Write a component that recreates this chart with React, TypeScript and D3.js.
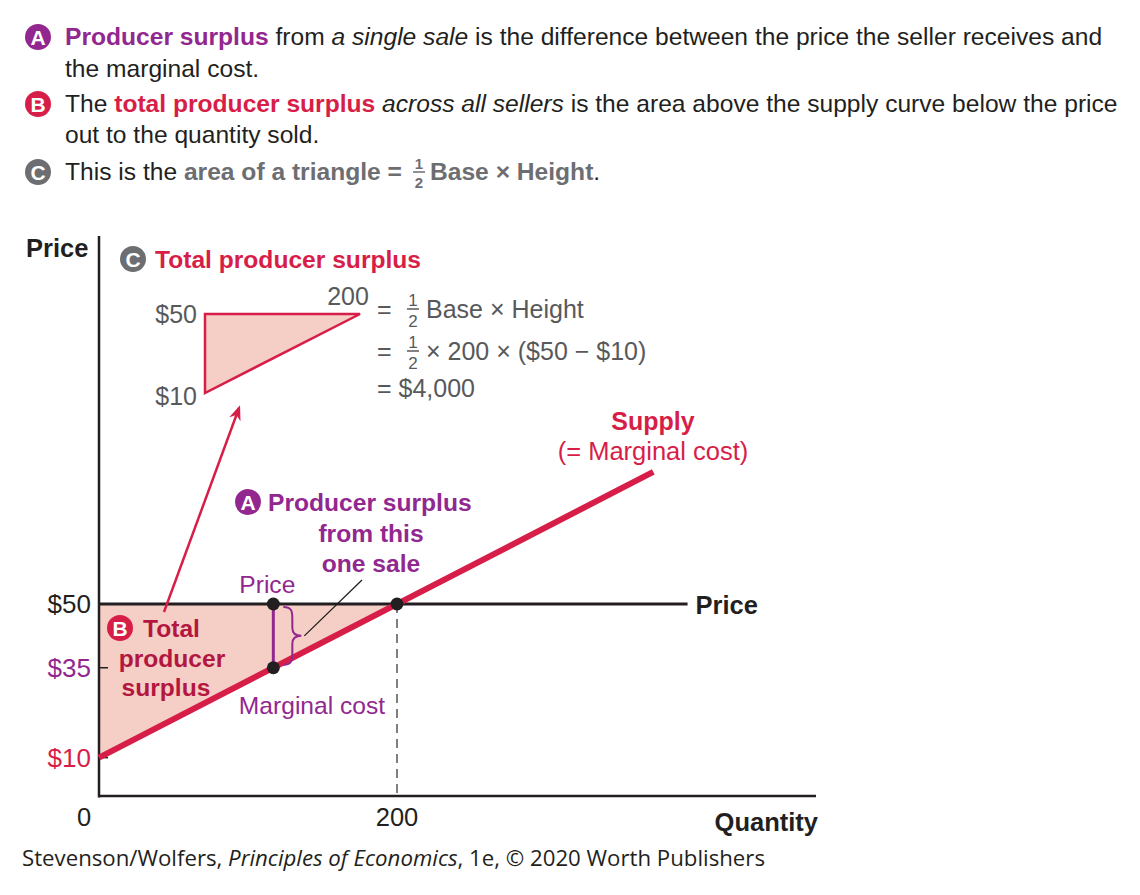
import React from 'react';
import * as d3 from 'd3';

// quantity / price values
const supplyIntercept = 10;
const supplySlope = 0.2;
const supplyQuantities = [0, 372];
const marketPrice = 50;
const marketQuantity = 200;
const saleQuantity = 117;
const priceLineEnd = 395;

const yTicks = [
  { value: 50, label: '$50', color: '#231f20' },
  { value: supplyIntercept + supplySlope * saleQuantity, label: '$35', color: '#92278f' },
  { value: 10, label: '$10', color: '#d71e48' },
];
const xTicks = [
  { value: 0, label: '0' },
  { value: 200, label: '200' },
];

const RED = '#d71e48';
const DARKRED = '#b3173f';
const PURPLE = '#92278f';
const GRAY = '#6d6e71';
const EQGRAY = '#58595b';
const FILL = '#f5cfc6';
const FONT = '"Liberation Sans", Arial, Helvetica, sans-serif';
const FS = 24.6;

const supply = (q: number) => supplyIntercept + supplySlope * q;

const Badge = ({ x, y, letter, color }: { x: number; y: number; letter: string; color: string }) => (
  <g>
    <circle cx={x} cy={y} r={13} fill={color} />
    <text x={x} y={y + 7.5} textAnchor="middle" fill="#fff" fontWeight="bold" fontSize={21}>
      {letter}
    </text>
  </g>
);

const Frac = ({ x, y, size, color, bold }: { x: number; y: number; size: number; color: string; bold?: boolean }) => (
  <g fill={color} fontSize={size} fontWeight={bold ? 'bold' : 'normal'}>
    <text x={x} y={y - 3} textAnchor="middle">1</text>
    <line x1={x - 6} x2={x + 6} y1={y} y2={y} stroke={color} strokeWidth={1.5} />
    <text x={x} y={y + size + 0.5} textAnchor="middle">2</text>
  </g>
);

export default function App() {
  const width = 1140;
  const height = 895;

  const x = d3.scaleLinear().domain([0, 200]).range([99, 397]);
  const y = d3.scaleLinear().domain([0, 50]).range([796, 604]);
  const xMax = x.invert(816);
  const yMax = y.invert(236);

  const supplyLine = d3
    .line<number>()
    .x((q) => x(q))
    .y((q) => y(supply(q)));

  const surplusArea = d3
    .area<number>()
    .x((q) => x(q))
    .y0((q) => y(supply(q)))
    .y1(() => y(marketPrice));

  // miniature of the surplus triangle in the inset
  const xi = d3.scaleLinear().domain([0, marketQuantity]).range([205, 360]);
  const yi = d3.scaleLinear().domain([supplyIntercept, marketPrice]).range([393, 314]);
  const insetArea = d3
    .area<number>()
    .x((q) => xi(q))
    .y0((q) => yi(supply(q)))
    .y1(() => yi(marketPrice));

  const saleX = x(saleQuantity);
  const saleTop = y(marketPrice);
  const saleBottom = y(supply(saleQuantity));
  const braceX = saleX + 10;
  const braceMid = (saleTop + saleBottom) / 2;
  const brace = `M${braceX},${saleTop + 3} C${braceX + 9},${saleTop + 3} ${braceX + 9},${saleTop + 8} ${braceX + 9},${saleTop + 15}
    L${braceX + 9},${braceMid - 8} C${braceX + 9},${braceMid - 2} ${braceX + 13},${braceMid} ${braceX + 18},${braceMid}
    C${braceX + 13},${braceMid} ${braceX + 9},${braceMid + 2} ${braceX + 9},${braceMid + 8}
    L${braceX + 9},${saleBottom - 15} C${braceX + 9},${saleBottom - 8} ${braceX + 9},${saleBottom - 3} ${braceX},${saleBottom - 3}`;

  return (
    <svg width={width} height={height} style={{ display: 'block', position: 'absolute', left: 0, top: 0 }} fontFamily={FONT}>
      <rect width={width} height={height} fill="#fff" />
      <defs>
        <marker id="arrowRed" viewBox="0 0 10 10" refX="8" refY="5" markerWidth="6" markerHeight="6" orient="auto">
          <path d="M0,1 L10,5 L0,9 L3,5 Z" fill={RED} />
        </marker>
      </defs>

      {/* header notes */}
      <g fontSize={FS} fill="#231f20">
        <Badge x={38} y={37} letter="A" color={PURPLE} />
        <text x={65} y={45}>
          <tspan fill={PURPLE} fontWeight="bold">Producer surplus</tspan>
          <tspan> from </tspan>
          <tspan fontStyle="italic">a single sale</tspan>
          <tspan> is the difference between the price the seller receives and</tspan>
        </text>
        <text x={65} y={77}>the marginal cost.</text>
        <Badge x={38} y={104} letter="B" color={RED} />
        <text x={65} y={112}>
          <tspan>The </tspan>
          <tspan fill={RED} fontWeight="bold">total producer surplus</tspan>
          <tspan> </tspan>
          <tspan fontStyle="italic">across all sellers</tspan>
          <tspan> is the area above the supply curve below the price</tspan>
        </text>
        <text x={65} y={143}>out to the quantity sold.</text>
        <Badge x={38} y={172} letter="C" color={GRAY} />
        <text x={65} y={180}>
          <tspan>This is the </tspan>
          <tspan fill={GRAY} fontWeight="bold">area of a triangle =</tspan>
        </text>
        <Frac x={419} y={172} size={15} color={GRAY} bold />
        <text x={430} y={180}>
          <tspan fill={GRAY} fontWeight="bold">Base × Height</tspan>
          <tspan>.</tspan>
        </text>
      </g>

      {/* shaded surplus */}
      <path d={surplusArea([0, marketQuantity]) ?? ''} fill={FILL} />

      {/* dashed guide at Q = 200 */}
      <line x1={x(marketQuantity)} x2={x(marketQuantity)} y1={y(marketPrice)} y2={y(0)} stroke="#555" strokeWidth={1.5} strokeDasharray="9,6" />

      {/* price line */}
      <line x1={x(0)} x2={x(priceLineEnd)} y1={y(marketPrice)} y2={y(marketPrice)} stroke="#231f20" strokeWidth={3} />
      <text x={x(priceLineEnd) + 8} y={y(marketPrice) + 10} fontSize={25.5} fontWeight="bold" fill="#231f20">Price</text>

      {/* axes */}
      <line x1={x(0)} x2={x(0)} y1={y(yMax)} y2={y(0) + 1.5} stroke="#231f20" strokeWidth={2.5} />
      <line x1={x(0)} x2={x(xMax)} y1={y(0)} y2={y(0)} stroke="#231f20" strokeWidth={2.5} />
      {yTicks.map((t) => (
        <g key={t.label}>
          {t.value !== marketPrice && (
            <line x1={x(0)} x2={x(0) + 9} y1={y(t.value)} y2={y(t.value)} stroke="#231f20" strokeWidth={1.5} />
          )}
          <text x={91} y={y(t.value) + 9} textAnchor="end" fontSize={26} fill={t.color}>{t.label}</text>
        </g>
      ))}
      {xTicks.map((t) => (
        <text key={t.label} x={t.value === 0 ? x(0) - 15 : x(t.value)} y={826} textAnchor="middle" fontSize={25.5} fill="#231f20">
          {t.label}
        </text>
      ))}
      <text x={26} y={257} fontSize={25.5} fontWeight="bold" fill="#231f20">Price</text>
      <text x={818} y={831} textAnchor="end" fontSize={25.5} fontWeight="bold" fill="#231f20">Quantity</text>

      {/* supply curve */}
      <path d={supplyLine(supplyQuantities) ?? ''} fill="none" stroke={RED} strokeWidth={6} />
      <text x={653} y={430} textAnchor="middle" fontSize={25} fontWeight="bold" fill={RED}>Supply</text>
      <text x={653} y={460} textAnchor="middle" fontSize={25.5} fill={RED}>(= Marginal cost)</text>

      {/* single sale */}
      <line x1={saleX} x2={saleX} y1={saleTop} y2={saleBottom} stroke={PURPLE} strokeWidth={3} />
      <path d={brace} fill="none" stroke={PURPLE} strokeWidth={2} />
      <line x1={braceX + 21} y1={braceMid} x2={362} y2={580} stroke="#231f20" strokeWidth={1.3} />
      <circle cx={saleX} cy={saleTop} r={6.5} fill="#231f20" />
      <circle cx={saleX} cy={saleBottom} r={6.5} fill="#231f20" />
      <circle cx={x(marketQuantity)} cy={y(marketPrice)} r={6.5} fill="#231f20" />
      <text x={saleX - 6} y={593} textAnchor="middle" fontSize={FS} fill={PURPLE}>Price</text>
      <text x={312} y={714} textAnchor="middle" fontSize={FS} fill={PURPLE}>Marginal cost</text>

      {/* annotation A */}
      <Badge x={248} y={502} letter="A" color={PURPLE} />
      <g fontSize={FS} fontWeight="bold" fill={PURPLE}>
        <text x={268} y={511}>Producer surplus</text>
        <text x={371} y={542} textAnchor="middle">from this</text>
        <text x={371} y={572} textAnchor="middle">one sale</text>
      </g>

      {/* annotation B */}
      <Badge x={120} y={628} letter="B" color={RED} />
      <g fontSize={FS} fontWeight="bold" fill={DARKRED}>
        <text x={143} y={637}>Total</text>
        <text x={172} y={667} textAnchor="middle">producer</text>
        <text x={166} y={696} textAnchor="middle">surplus</text>
      </g>

      {/* arrow to inset */}
      <line x1={164} y1={612} x2={239} y2={408} stroke={RED} strokeWidth={2.5} markerEnd="url(#arrowRed)" />

      {/* inset */}
      <Badge x={133} y={259} letter="C" color={GRAY} />
      <text x={155} y={268} fontSize={FS} fontWeight="bold" fill={RED}>Total producer surplus</text>
      <path d={(insetArea([0, marketQuantity]) ?? '') + 'Z'} fill={FILL} stroke={RED} strokeWidth={2.5} strokeLinejoin="miter" />
      <g fontSize={25} fill={EQGRAY}>
        <text x={197} y={323} textAnchor="end">$50</text>
        <text x={197} y={405} textAnchor="end">$10</text>
        <text x={348} y={305} textAnchor="middle">200</text>
        <text x={377} y={318}>=</text>
        <Frac x={413} y={309} size={17} color={EQGRAY} />
        <text x={426} y={318}>Base × Height</text>
        <text x={377} y={360}>=</text>
        <Frac x={413} y={351} size={17} color={EQGRAY} />
        <text x={426} y={360}>× 200 × ($50 − $10)</text>
        <text x={377} y={397}>= $4,000</text>
      </g>

      {/* source */}
      <text x={22} y={866} fontSize={22} fill="#231f20" fontFamily='"Open Sans", sans-serif' textLength={743} lengthAdjust="spacingAndGlyphs">
        <tspan>Stevenson/Wolfers, </tspan>
        <tspan fontStyle="italic">Principles of Economics</tspan>
        <tspan>, 1e, © 2020 Worth Publishers</tspan>
      </text>
    </svg>
  );
}
